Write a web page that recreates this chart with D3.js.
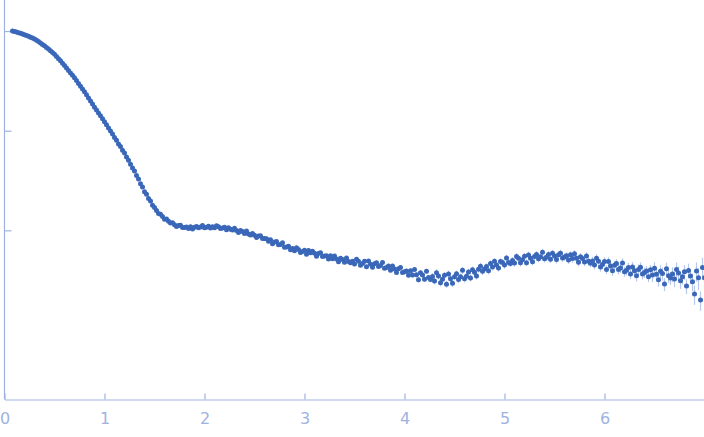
<!DOCTYPE html>
<html><head><meta charset="utf-8">
<script src="https://cdn.jsdelivr.net/npm/d3@7"></script>
<style>body{margin:0;background:#fff}svg{display:block}</style>
</head><body>
<svg id="chart" width="704" height="437"></svg>
<script>
// q grid of the measurement (nm^-1)
const qStart = 0.08, qStep = 0.02;
// log10 of normalised intensity
const logIntensity = [
 0.000,-0.004,-0.010,-0.016,-0.023,-0.030,-0.037,-0.045,-0.053,-0.063,
 -0.071,-0.080,-0.092,-0.106,-0.120,-0.134,-0.148,-0.164,-0.181,-0.199,
 -0.216,-0.234,-0.255,-0.277,-0.299,-0.322,-0.345,-0.370,-0.395,-0.420,
 -0.444,-0.469,-0.497,-0.526,-0.554,-0.582,-0.610,-0.640,-0.671,-0.702,
 -0.733,-0.764,-0.793,-0.822,-0.851,-0.880,-0.910,-0.941,-0.972,-1.003,
 -1.034,-1.068,-1.095,-1.133,-1.160,-1.197,-1.224,-1.265,-1.296,-1.338,
 -1.374,-1.404,-1.450,-1.484,-1.532,-1.565,-1.612,-1.639,-1.680,-1.707,
 -1.748,-1.771,-1.801,-1.830,-1.838,-1.862,-1.890,-1.887,-1.910,-1.926,
 -1.924,-1.945,-1.962,-1.951,-1.950,-1.971,-1.972,-1.967,-1.982,-1.964,
 -1.986,-1.969,-1.961,-1.975,-1.967,-1.951,-1.974,-1.968,-1.959,-1.976,
 -1.964,-1.974,-1.955,-1.965,-1.983,-1.976,-1.968,-1.994,-1.973,-1.989,
 -1.997,-1.979,-2.002,-2.023,-2.002,-2.013,-2.032,-2.008,-2.036,-2.048,
 -2.032,-2.050,-2.072,-2.056,-2.054,-2.082,-2.082,-2.084,-2.110,-2.094,
 -2.135,-2.116,-2.113,-2.145,-2.142,-2.124,-2.169,-2.168,-2.160,-2.195,
 -2.182,-2.206,-2.175,-2.192,-2.223,-2.212,-2.199,-2.240,-2.202,-2.226,
 -2.209,-2.231,-2.260,-2.232,-2.225,-2.263,-2.259,-2.255,-2.287,-2.256,
 -2.285,-2.257,-2.288,-2.316,-2.281,-2.294,-2.320,-2.278,-2.314,-2.326,
 -2.311,-2.338,-2.291,-2.311,-2.351,-2.332,-2.310,-2.365,-2.309,-2.340,
 -2.371,-2.335,-2.325,-2.364,-2.354,-2.323,-2.380,-2.374,-2.358,-2.402,
 -2.358,-2.387,-2.424,-2.385,-2.374,-2.423,-2.416,-2.409,-2.450,-2.407,
 -2.449,-2.393,-2.447,-2.495,-2.427,-2.448,-2.490,-2.411,-2.474,-2.494,
 -2.463,-2.508,-2.426,-2.458,-2.526,-2.492,-2.452,-2.541,-2.438,-2.485,
 -2.532,-2.465,-2.437,-2.493,-2.465,-2.401,-2.487,-2.462,-2.419,-2.478,
 -2.396,-2.422,-2.458,-2.390,-2.360,-2.412,-2.388,-2.364,-2.407,-2.334,
 -2.368,-2.311,-2.347,-2.378,-2.314,-2.323,-2.349,-2.278,-2.323,-2.333,
 -2.302,-2.329,-2.262,-2.281,-2.326,-2.295,-2.260,-2.325,-2.247,-2.281,
 -2.315,-2.263,-2.243,-2.286,-2.266,-2.219,-2.285,-2.270,-2.242,-2.291,
 -2.231,-2.257,-2.294,-2.246,-2.229,-2.279,-2.267,-2.255,-2.298,-2.246,
 -2.284,-2.236,-2.281,-2.321,-2.266,-2.284,-2.319,-2.257,-2.311,-2.330,
 -2.307,-2.347,-2.281,-2.310,-2.369,-2.343,-2.312,-2.392,-2.312,-2.357,
 -2.407,-2.351,-2.334,-2.394,-2.377,-2.327,-2.415,-2.402,-2.373,-2.438,
 -2.367,-2.407,-2.457,-2.393,-2.371,-2.439,-2.423,-2.408,-2.465,-2.396,
 -2.449,-2.380,-2.441,-2.495,-2.412,-2.434,-2.540,-2.385,-2.457,-2.478,
 -2.439,-2.489,-2.392,-2.428,-2.506,-2.465,-2.417,-2.560,-2.403,-2.459,
 -2.515,-2.640,-2.408,-2.476,-2.700,-2.374,-2.477
];
const relError = [
 0.004,0.004,0.004,0.004,0.004,0.004,0.004,0.004,0.004,0.004,
 0.004,0.004,0.004,0.004,0.004,0.004,0.004,0.004,0.004,0.004,
 0.004,0.004,0.004,0.004,0.004,0.004,0.004,0.004,0.004,0.004,
 0.005,0.005,0.005,0.005,0.005,0.005,0.005,0.005,0.005,0.005,
 0.005,0.005,0.005,0.005,0.005,0.005,0.005,0.005,0.005,0.005,
 0.006,0.006,0.006,0.006,0.006,0.006,0.006,0.006,0.006,0.006,
 0.008,0.008,0.008,0.008,0.008,0.008,0.008,0.008,0.008,0.008,
 0.012,0.012,0.012,0.012,0.012,0.012,0.012,0.012,0.012,0.012,
 0.012,0.013,0.012,0.013,0.012,0.013,0.012,0.013,0.012,0.013,
 0.014,0.013,0.014,0.013,0.014,0.013,0.014,0.013,0.014,0.013,
 0.02,0.02,0.02,0.02,0.02,0.02,0.02,0.02,0.02,0.02,
 0.02,0.02,0.02,0.02,0.02,0.02,0.02,0.02,0.02,0.02,
 0.022,0.022,0.022,0.022,0.022,0.022,0.022,0.022,0.022,0.022,
 0.03,0.03,0.03,0.03,0.03,0.03,0.03,0.03,0.03,0.03,
 0.03,0.03,0.03,0.03,0.03,0.03,0.03,0.03,0.03,0.03,
 0.032,0.032,0.032,0.032,0.032,0.032,0.032,0.032,0.032,0.032,
 0.035,0.035,0.035,0.035,0.035,0.035,0.035,0.035,0.035,0.035,
 0.05,0.05,0.05,0.05,0.05,0.05,0.05,0.05,0.05,0.05,
 0.05,0.05,0.05,0.05,0.05,0.05,0.05,0.05,0.05,0.05,
 0.055,0.055,0.055,0.055,0.055,0.055,0.055,0.055,0.055,0.055,
 0.06,0.06,0.06,0.06,0.06,0.06,0.06,0.06,0.06,0.06,
 0.08,0.08,0.08,0.08,0.08,0.08,0.08,0.08,0.08,0.08,
 0.08,0.08,0.08,0.08,0.08,0.08,0.08,0.08,0.08,0.08,
 0.08,0.08,0.08,0.08,0.08,0.08,0.08,0.08,0.08,0.08,
 0.08,0.08,0.08,0.08,0.08,0.08,0.08,0.08,0.08,0.08,
 0.08,0.08,0.08,0.08,0.08,0.08,0.08,0.08,0.08,0.08,
 0.08,0.08,0.08,0.08,0.08,0.08,0.08,0.08,0.08,0.08,
 0.085,0.085,0.085,0.085,0.085,0.085,0.085,0.085,0.085,0.085,
 0.09,0.09,0.09,0.09,0.09,0.09,0.09,0.09,0.09,0.09,
 0.1,0.1,0.1,0.1,0.1,0.1,0.1,0.1,0.1,0.1,
 0.11,0.11,0.11,0.11,0.11,0.11,0.11,0.11,0.11,0.11,
 0.12,0.12,0.12,0.12,0.12,0.12,0.12,0.12,0.12,0.12,
 0.15,0.15,0.15,0.15,0.15,0.15,0.15,0.15,0.15,0.15,
 0.17,0.17,0.17,0.17,0.17,0.17,0.17,0.17,0.17,0.17,
 0.2,0.22,0.22,0.25,0.22,0.25,0.22
];
const xTicks = [0,1,2,3,4,5,6];
const yTicks = [1, 0.1, 0.01];

const axisColor = "#9fb3df";
const pointColor = "#3a67b8";
const errColor = "#b7c8ea";

const x = d3.scaleLinear().domain([0, 7]).range([4.5, 704.5]);
const y = d3.scaleLog().domain([Math.pow(10, -3.698), Math.pow(10, 0.3116)]).range([399.5, 0]);

const data = logIntensity.map((v, i) => {
  const I = Math.pow(10, v);
  return { q: +(qStart + i * qStep).toFixed(2), I, e: I * relError[i] };
});

const svg = d3.select("#chart");

// y axis (no labels)
const yAxis = svg.append("g").attr("transform", "translate(4.5,0)")
  .call(d3.axisLeft(y).tickValues(yTicks).tickSizeInner(-7).tickSizeOuter(0).tickFormat(""));
yAxis.select(".domain").attr("d", "M0,0V399.5");

// x axis
const xAxis = svg.append("g").attr("transform", "translate(0,399.5)")
  .call(d3.axisBottom(x).tickValues(xTicks).tickSizeInner(-6).tickSizeOuter(0).tickPadding(13).tickFormat(d3.format("d")));

[xAxis, yAxis].forEach(g => {
  g.selectAll("path,line").attr("stroke", axisColor).attr("stroke-width", 1.2);
  g.selectAll("text").attr("fill", axisColor)
    .style("font-family", "DejaVu Sans, sans-serif").style("font-size", "16px");
});

// error bars
svg.append("g").selectAll("line").data(data).join("line")
  .attr("x1", d => x(d.q)).attr("x2", d => x(d.q))
  .attr("y1", d => y(d.I + d.e)).attr("y2", d => y(Math.max(d.I - d.e, 1e-6)))
  .attr("stroke", errColor).attr("stroke-width", 1.2);

// points
svg.append("g").selectAll("circle").data(data).join("circle")
  .attr("cx", d => x(d.q)).attr("cy", d => y(d.I)).attr("r", 2.5)
  .attr("fill", pointColor);
</script>
</body></html>
